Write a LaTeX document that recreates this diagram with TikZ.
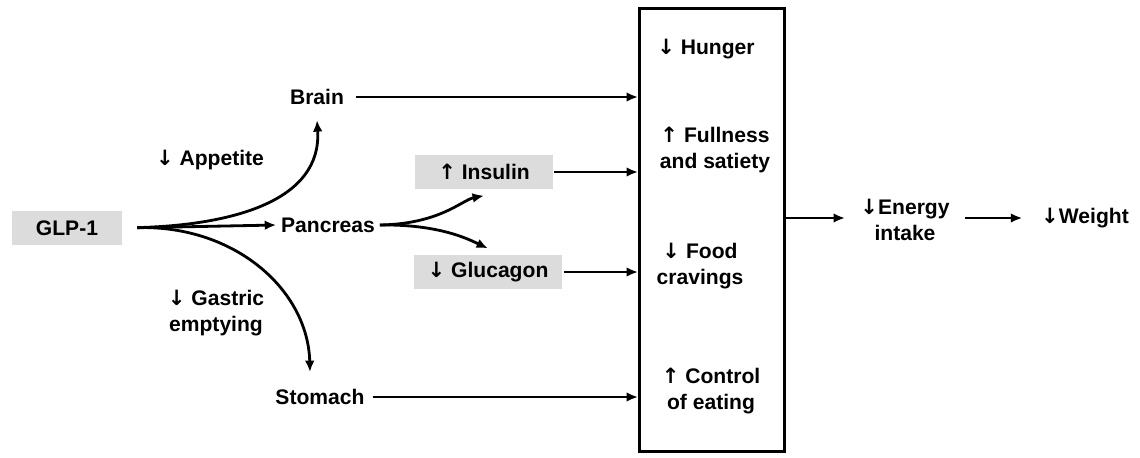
\documentclass[tikz,border=0pt]{standalone}
\usepackage{fontspec}
\setmainfont{Liberation Sans}
\newfontfamily\arrowfont{DejaVu Sans}
\newcommand{\arrdown}{{\arrowfont\bfseries ↓}}
\newcommand{\arrup}{{\arrowfont\bfseries ↑}}
\usepackage{tikz}
\usetikzlibrary{positioning,arrows.meta}
\definecolor{boxgrey}{RGB}{220,220,220}

\begin{document}
\begin{tikzpicture}[x=0.02cm,y=-0.02cm,->,>={Latex[length=6.5pt,width=5.5pt]},line width=1.6pt]
  \tikzstyle{word}=[font=\bfseries\fontsize{12}{14.5}\selectfont, align=center, inner sep=2pt]
  \tikzstyle{greybox}=[word, fill=boxgrey, minimum height=0.68cm]
  \useasboundingbox (0,0) rectangle (1140,457);
  \node[greybox, minimum width=2.2cm] (GLP) at (67,228) {GLP-1};
  \node[word] (Brain) at (317,97) {Brain};
  \node[word] (Pancreas) at (328,225) {Pancreas};
  \node[word] (Stomach) at (320,397) {Stomach};
  \node[word] (Appetite) at (210,160) {\arrdown\ Appetite};
  \node[word] (Gastric) at (216,313) {\arrdown\ Gastric\\emptying};
  \node[greybox, minimum width=2.76cm] (Insulin) at (484,172) {\arrup\ Insulin};
  \node[greybox, minimum width=2.98cm] (Glucagon) at (488,272) {\arrdown\ Glucagon};
  \node[draw, line width=1.7pt, minimum width=2.9cm, minimum height=8.88cm] (Effects) at (712,230) {};
  \node[word] (Hunger) at (706,49) {\arrdown\ Hunger};
  \node[word] (Fullness) at (715,150) {\arrup\ Fullness\\and satiety};
  \node[word] (Food) at (700,266) {\arrdown\ Food\\cravings};
  \node[word] (Control) at (711,391) {\arrup\ Control\\of eating};
  \node[word] (Energy) at (905,220) {\arrdown Energy\\intake};
  \node[word] (Weight) at (1085,218) {\arrdown Weight};
  \draw[shorten <=8pt] (GLP.east) .. controls (235,225) and (322,200) .. ([yshift=-6pt]Brain.south);
  \draw[shorten <=8pt] (GLP.east) -- (Pancreas.west);
  \draw[shorten <=8pt] (GLP.east) .. controls (235,225) and (308,290) .. ([yshift=7pt]Stomach.north -| 310,0);
  \draw (Pancreas.east) .. controls (440,224) and (462,200) .. ([yshift=-3pt]Insulin.south);
  \draw (Pancreas.east) .. controls (440,224) and (470,240) .. ([yshift=3pt]Glucagon.north);
  \draw[shorten <=4pt] (Brain.east) -- (Brain -| Effects.west);
  \draw (Insulin.east) -- (Insulin -| Effects.west);
  \draw (Glucagon.east) -- (Glucagon -| Effects.west);
  \draw[shorten <=2pt] (Stomach.east) -- (Stomach -| Effects.west);
  \draw[shorten >=6pt] (Effects.east |- Weight) -- (Energy.west |- Weight);
  \draw[shorten <=6pt, shorten >=8pt] (Energy.east |- Weight) -- (Weight.west);
\end{tikzpicture}
\end{document}
